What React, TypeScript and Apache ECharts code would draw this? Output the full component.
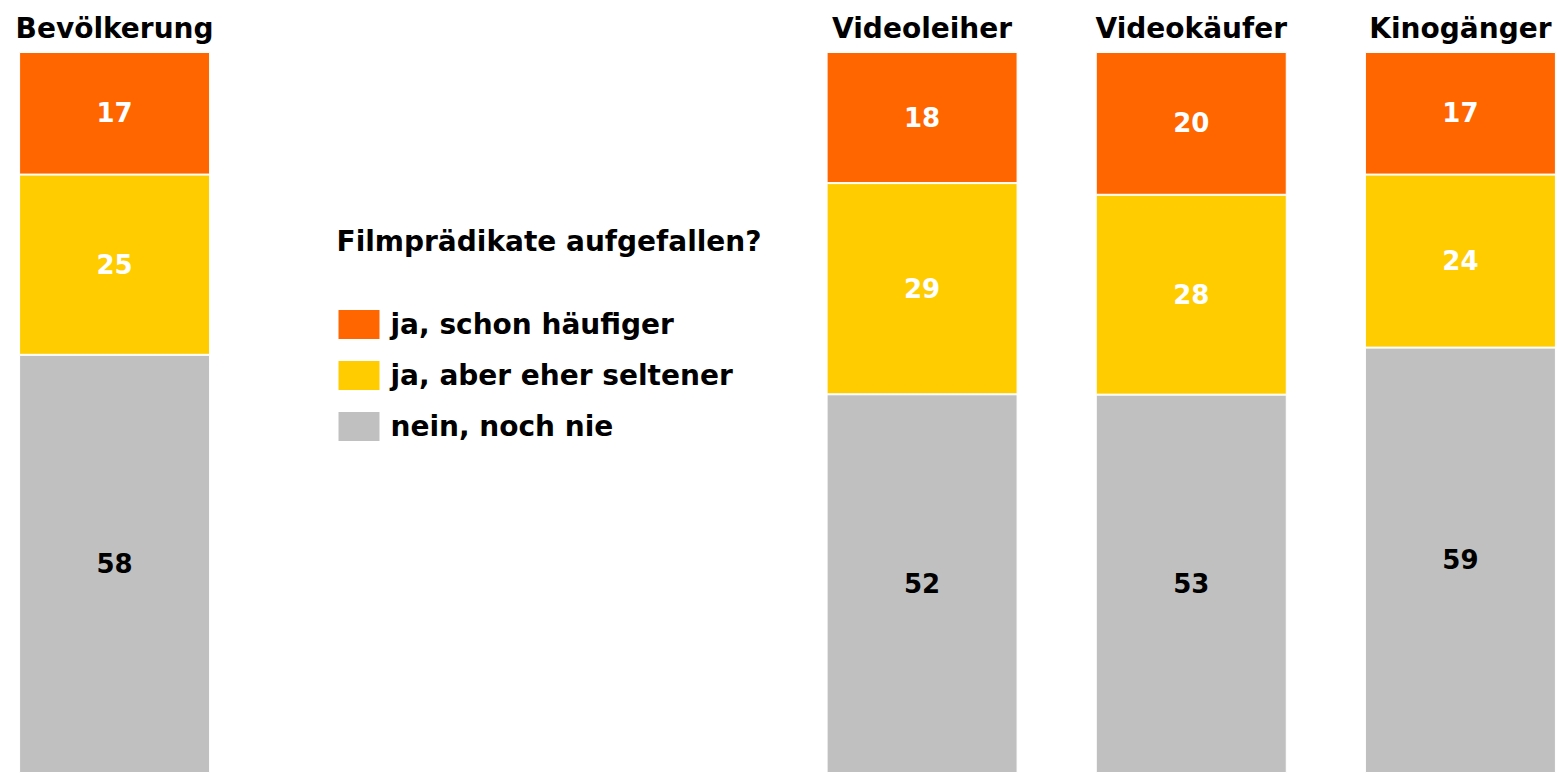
import React, { useEffect, useRef } from "react";
import * as echarts from "echarts";

const categories = ["Bevölkerung", " ", "  ", "Videoleiher", "Videokäufer", "Kinogänger"];
const seriesNames = ["ja, schon häufiger", "ja, aber eher seltener", "nein, noch nie"];
const oftenValues: (number | null)[] = [17, null, null, 18, 20, 17];
const rarelyValues: (number | null)[] = [25, null, null, 29, 28, 24];
const neverValues: (number | null)[] = [58, null, null, 52, 53, 59];
const colors = ["#FF6600", "#FFCC00", "#C0C0C0"];
const labelColors = ["#FFFFFF", "#FFFFFF", "#000000"];
const legendTitle = "Filmprädikate aufgefallen?";

const FONT = "'DejaVu Sans', Verdana, sans-serif";
const OFFSET = 20.5;
const CHART_W = 1615;

export default function App() {
  const ref = useRef<HTMLDivElement>(null);
  useEffect(() => {
    if (!ref.current) return;
    const chart = echarts.init(ref.current, null, { renderer: "svg" });
    const raw = [oftenValues, rarelyValues, neverValues];
    const totals = categories.map((_, i) =>
      raw.reduce((s, arr) => s + (arr[i] ?? 0), 0)
    );
    const series = raw.map((arr, si) => ({
      name: seriesNames[si],
      type: "bar",
      stack: "total",
      barWidth: 191,
      data: arr.map((v, i) =>
        v == null ? null : { value: (v / totals[i]) * 100, raw: v }
      ),
      itemStyle: { color: colors[si], borderColor: "#FFFFFF", borderWidth: 1 },
      label: {
        show: true,
        position: "inside",
        color: labelColors[si],
        fontFamily: FONT,
        fontWeight: "bold",
        fontSize: 26,
        formatter: (p: any) => String(p.data.raw),
      },
    }));
    chart.setOption({
      animation: false,
      backgroundColor: "#FFFFFF",
      title: {
        text: legendTitle,
        left: 336 + OFFSET,
        top: 227,
        padding: 0,
        textStyle: { fontFamily: FONT, fontWeight: "bold", fontSize: 28, color: "#000" },
      },
      legend: {
        orient: "vertical",
        left: 336 + OFFSET,
        top: 308,
        padding: 0,
        itemWidth: 43,
        itemHeight: 31,
        itemGap: 18,
        icon: "rect",
        selectedMode: false,
        textStyle: {
          fontFamily: FONT,
          fontWeight: "bold",
          fontSize: 28,
          color: "#000",
          padding: [0, 0, 0, 5],
        },
        data: seriesNames,
      },
      grid: { left: 0, right: 0, top: 52, bottom: 0 },
      xAxis: {
        type: "category",
        position: "top",
        data: categories,
        axisLine: { show: false },
        axisTick: { show: false },
        axisLabel: {
          fontFamily: FONT,
          fontWeight: "bold",
          fontSize: 28,
          color: "#000",
          margin: 10,
          interval: 0,
        },
      },
      yAxis: {
        type: "value",
        min: 0,
        max: 100,
        inverse: true,
        show: false,
      },
      series,
    });
    return () => chart.dispose();
  }, []);
  return (
    <div
      style={{
        position: "absolute",
        left: 0,
        top: 0,
        width: 1560,
        height: 773,
        overflow: "hidden",
        background: "#fff",
      }}
    >
      <div
        ref={ref}
        style={{ position: "absolute", left: -OFFSET, top: 0, width: CHART_W, height: 773 }}
      />
    </div>
  );
}
